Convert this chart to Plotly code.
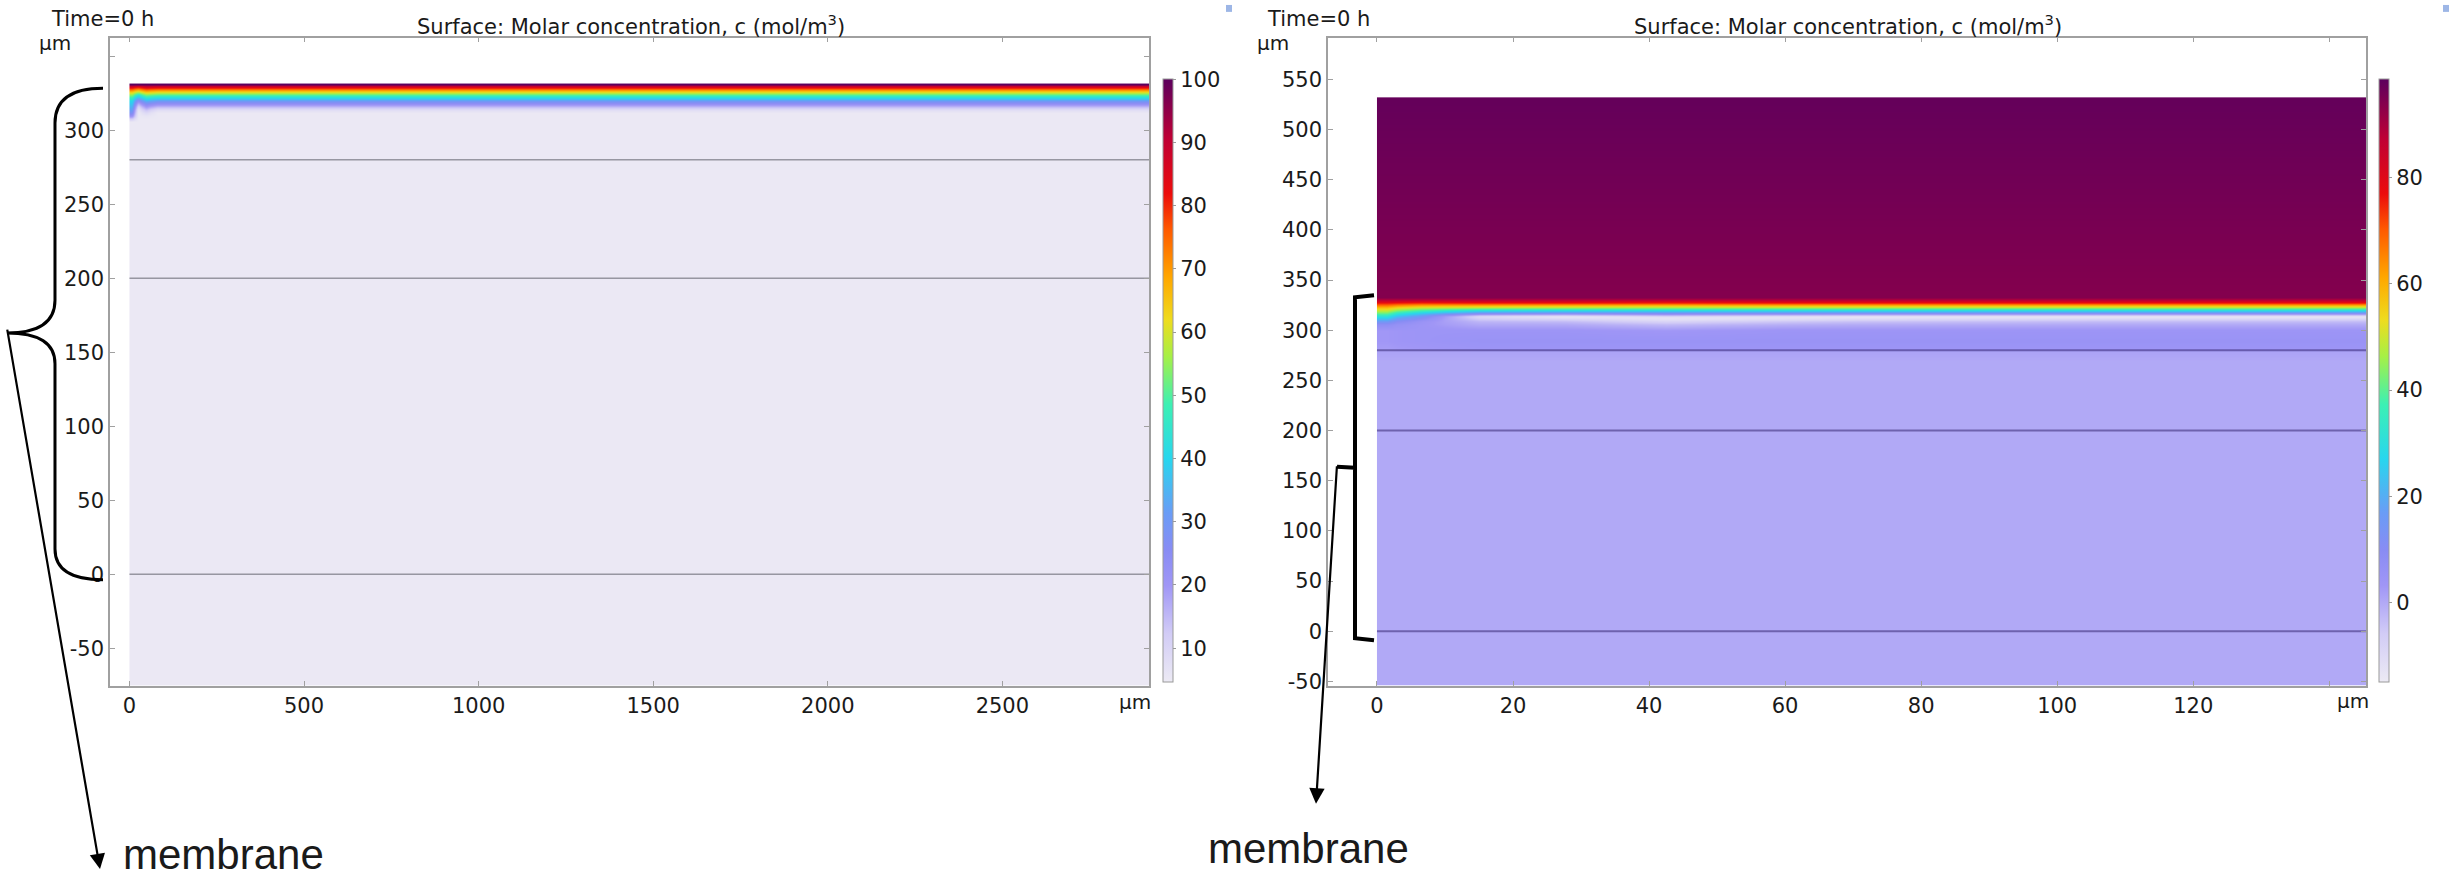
import numpy as np
import plotly.graph_objects as go

W, H = 2456, 889

# ---------------- data ----------------
# Left panel: full-width model (µm), concentration c (mol/m^3) sampled by height y (µm)
left_x_edges = [0, 15, 35, 60, 100, 2920]
left_y = [-75.3, 304, 306, 308, 310, 312, 314, 316, 318, 320, 322, 324, 326, 328, 330, 331]
left_c_x0   = [5, 5, 5, 12, 22, 28, 32, 35, 38, 41, 47, 55, 65, 78, 91, 100]
left_c_x25  = [5, 5, 5, 5, 5, 5, 6, 10, 16, 24, 34, 44, 58, 73, 89, 100]
left_c_x48  = [5, 5, 5, 5, 6, 9, 14, 20, 27, 35, 44, 54, 66, 79, 92, 100]
left_c_x80  = [5, 5, 5, 5, 5, 5, 8, 15, 23, 31, 41, 51, 63, 77, 91, 100]
left_c_bulk = [5, 5, 5, 5, 5, 5, 8, 15, 23, 31, 41, 51, 63, 77, 91, 100]
left_cmin, left_cmax = 4.6, 100
left_cbar_ticks = [10, 20, 30, 40, 50, 60, 70, 80, 90, 100]

# Right panel: zoomed model (µm)
right_x_edges = [0, 3, 10, 20, 35, 50, 70, 146]
right_y = [-56, 270, 279, 282, 290, 300, 306, 309, 311, 313, 314, 315, 317, 318, 319, 320,
           321, 323, 325, 326, 327, 329, 331, 333, 529, 531]
right_c_x0  = [0, 0, 1, 2, 3, 3, 8, 15, 21, 27, 30, 33, 40, 43, 46, 49, 52, 58, 66, 70, 74, 82, 89, 94, 97.5, 97.5]
right_c_x6  = [0, 0, 1, 3, 4, 4, 4, 5, 8, 12, 14, 17, 24, 28, 33, 37, 41, 50, 60, 65, 71, 81, 89, 94, 97.5, 97.5]
right_c_x15 = [0, 0, 1, 4, 5, 4, 0, -2, -5, -8, -9, -5, 10, 17, 23, 29, 35, 48, 59, 65, 72, 82, 89, 94, 97.5, 97.5]
right_c_x28 = [0, 0, 1, 4, 5, 4, 0, -3, -7, -12, -13, -8, 8, 16, 22, 28, 34, 47, 58, 64, 72, 82, 89, 94, 97.5, 97.5]
right_c_x43 = [0, 0, 1, 4, 5, 3, -3, -8, -12, -13, -10, -4, 10, 16, 22, 28, 34, 46, 57, 63, 71, 81, 89, 94, 97.5, 97.5]
right_c_x60 = [0, 0, 1, 4, 5, 4, -1, -5, -10, -13, -12, -6, 9, 16, 22, 28, 34, 47, 58, 64, 72, 82, 89, 94, 97.5, 97.5]
right_c_bulk = [0, 0, 1, 4, 5, 4, 0, -3, -7, -12, -13, -8, 8, 16, 22, 28, 34, 47, 58, 64, 72, 82, 89, 94, 97.5, 97.5]
right_cmin, right_cmax = -15, 98.5
right_cbar_ticks = [0, 20, 40, 60, 80]

# layer interfaces (µm)
layer_interfaces = [0, 200, 280]

left_xticks = [0, 500, 1000, 1500, 2000, 2500]
left_yticks = [-50, 0, 50, 100, 150, 200, 250, 300, 350]
right_xticks = [0, 20, 40, 60, 80, 100, 120, 140]
right_yticks = [-50, 0, 50, 100, 150, 200, 250, 300, 350, 400, 450, 500, 550]

title_text = "Surface: Molar concentration, c (mol/m<sup>3</sup>)"
time_text = "Time=0 h"
unit_text = "µm"
label_text = "membrane"

# ---------------- style ----------------
rainbow_light = [
    [0.00, '#ECEAF4'],
    [0.08, '#D2CCF6'],
    [0.16, '#A096F6'],
    [0.22, '#888CF4'],
    [0.28, '#6A9CF6'],
    [0.37, '#28D6EE'],
    [0.46, '#3CF0B4'],
    [0.54, '#A6F046'],
    [0.60, '#EEDC1E'],
    [0.67, '#FFA800'],
    [0.75, '#FF5A00'],
    [0.81, '#EC0C0C'],
    [0.90, '#C00034'],
    [1.00, '#5C005E'],
]
FONT = 'DejaVu Sans'
tickfont = dict(family=FONT, size=21, color='#1a1a1a')


def px(x):
    return x / W


def py(y):
    return 1 - y / H


def cbar(x0, ticks):
    return dict(x=px(x0), xanchor='left', xpad=0, y=py(80), yanchor='top', ypad=0,
                len=603, lenmode='pixels', thickness=10, outlinewidth=1, outlinecolor='#9a9a9a',
                tickvals=ticks, ticks='outside', ticklen=3, tickcolor='#9a9a9a',
                tickfont=tickfont)


def labels(ticks, blank_last=False):
    t = [str(v) for v in ticks]  # plain hyphen minus, as in the reference
    if blank_last:
        t[-1] = ''
    return t


fig = go.Figure()

z_left = np.array([left_c_x0, left_c_x25, left_c_x48, left_c_x80, left_c_bulk]).T.tolist()
fig.add_trace(go.Heatmap(x=left_x_edges, y=left_y, z=z_left, zsmooth='best',
                         colorscale=rainbow_light, zmin=left_cmin, zmax=left_cmax,
                         colorbar=cbar(1163, left_cbar_ticks), hoverinfo='skip',
                         xaxis='x', yaxis='y'))

z_right = np.array([right_c_x0, right_c_x6, right_c_x15, right_c_x28, right_c_x43,
                    right_c_x60, right_c_bulk]).T.tolist()
fig.add_trace(go.Heatmap(x=right_x_edges, y=right_y, z=z_right, zsmooth='best',
                         colorscale=rainbow_light, zmin=right_cmin, zmax=right_cmax,
                         colorbar=cbar(2379, right_cbar_ticks), hoverinfo='skip',
                         xaxis='x2', yaxis='y2'))

for v in layer_interfaces:
    fig.add_trace(go.Scatter(x=[left_x_edges[0], left_x_edges[-1]], y=[v, v], mode='lines',
                             line=dict(color='rgba(95,95,105,0.6)', width=1.6),
                             showlegend=False, hoverinfo='skip', xaxis='x', yaxis='y'))
    fig.add_trace(go.Scatter(x=[right_x_edges[0], right_x_edges[-1]], y=[v, v], mode='lines',
                             line=dict(color='rgba(55,40,115,0.55)', width=2),
                             showlegend=False, hoverinfo='skip', xaxis='x2', yaxis='y2'))

axis_common = dict(showline=True, linecolor='#A0A0A0', linewidth=1.5, mirror='ticks',
                   ticks='inside', ticklen=5, tickcolor='#A0A0A0', tickwidth=1,
                   showgrid=False, zeroline=False, tickfont=tickfont)

ydom = [py(692), py(38)]
fig.update_layout(
    width=W, height=H, autosize=False,
    margin=dict(l=0, r=0, t=0, b=0),
    paper_bgcolor='white', plot_bgcolor='white',
    showlegend=False,
    xaxis=dict(domain=[px(110), px(1149)], range=[-55.8, 2920], anchor='y',
               tickvals=left_xticks, ticktext=labels(left_xticks), **axis_common),
    yaxis=dict(domain=ydom, range=[-75.3, 362.5], anchor='x',
               tickvals=left_yticks, ticktext=labels(left_yticks, True), **axis_common),
    xaxis2=dict(domain=[px(1328), px(2366)], range=[-7.2, 145.4], anchor='y2',
                tickvals=right_xticks, ticktext=labels(right_xticks, True), **axis_common),
    yaxis2=dict(domain=ydom, range=[-54.3, 591.5], anchor='x2',
                tickvals=right_yticks, ticktext=labels(right_yticks), **axis_common),
)

ann = []
def text(x, y, s, size=21, family=FONT, xanchor='center', yanchor='middle'):
    ann.append(dict(x=px(x), y=py(y), xref='paper', yref='paper', text=s, showarrow=False,
                    xanchor=xanchor, yanchor=yanchor,
                    font=dict(family=family, size=size, color='#1a1a1a')))

text(49, 19, time_text, xanchor='left')
text(631, 25, title_text)
text(55, 43, unit_text, size=20)
text(1135, 708, unit_text, size=20)
text(1265, 19, time_text, xanchor='left')
text(1848, 25, title_text)
text(1273, 43, unit_text, size=20)
text(2353, 707, unit_text, size=20)
text(223, 888, label_text, size=42, family='Liberation Sans', yanchor='bottom')
text(1308, 856, label_text, size=42, family='Liberation Sans')

# arrows to the labels
for tip, tail in [((100, 877), (7, 336)), ((1316, 811), (1337, 472))]:
    ann.append(dict(x=px(tip[0]), y=py(tip[1]), xref='paper', yref='paper', text='',
                    showarrow=True, ax=tail[0] - tip[0], ay=tail[1] - tip[1],
                    axref='pixel', ayref='pixel', arrowhead=2, arrowsize=1.4,
                    arrowwidth=2.2, arrowcolor='black', standoff=0, startstandoff=0))
fig.update_layout(annotations=ann)


def path(cmds):
    out = []
    for c in cmds:
        if isinstance(c, str):
            out.append(c)
        else:
            out.append(f"{px(c[0]):.5f},{py(c[1]):.5f}")
    return ' '.join(out)

brace = path(['M', (103, 89), 'C', (72, 89), (55, 100), (55, 124),
              'L', (55, 303),
              'C', (55, 326), (38, 336), (7, 336),
              'C', (38, 336), (55, 346), (55, 367),
              'L', (55, 554),
              'C', (55, 575), (72, 585), (103, 585)])
bracket = path(['M', (1374, 298), 'L', (1355, 300), 'L', (1355, 644), 'L', (1374, 646),
                'M', (1355, 472), 'L', (1337, 471)])

shapes = [
    dict(type='path', path=brace, xref='paper', yref='paper',
         line=dict(color='black', width=3)),
    dict(type='path', path=bracket, xref='paper', yref='paper',
         line=dict(color='black', width=4)),
    dict(type='rect', xref='paper', yref='paper', x0=px(1226), x1=px(1232), y0=py(12), y1=py(5),
         fillcolor='#9DB6E6', line=dict(width=0)),
    dict(type='rect', xref='paper', yref='paper', x0=px(2443), x1=px(2449), y0=py(12), y1=py(5),
         fillcolor='#9DB6E6', line=dict(width=0)),
]
fig.update_layout(shapes=shapes)

fig.write_html("out.html", include_plotlyjs=True, config=dict(displayModeBar=False),
               post_script="document.body.style.margin='0';document.body.style.overflow='hidden';")
